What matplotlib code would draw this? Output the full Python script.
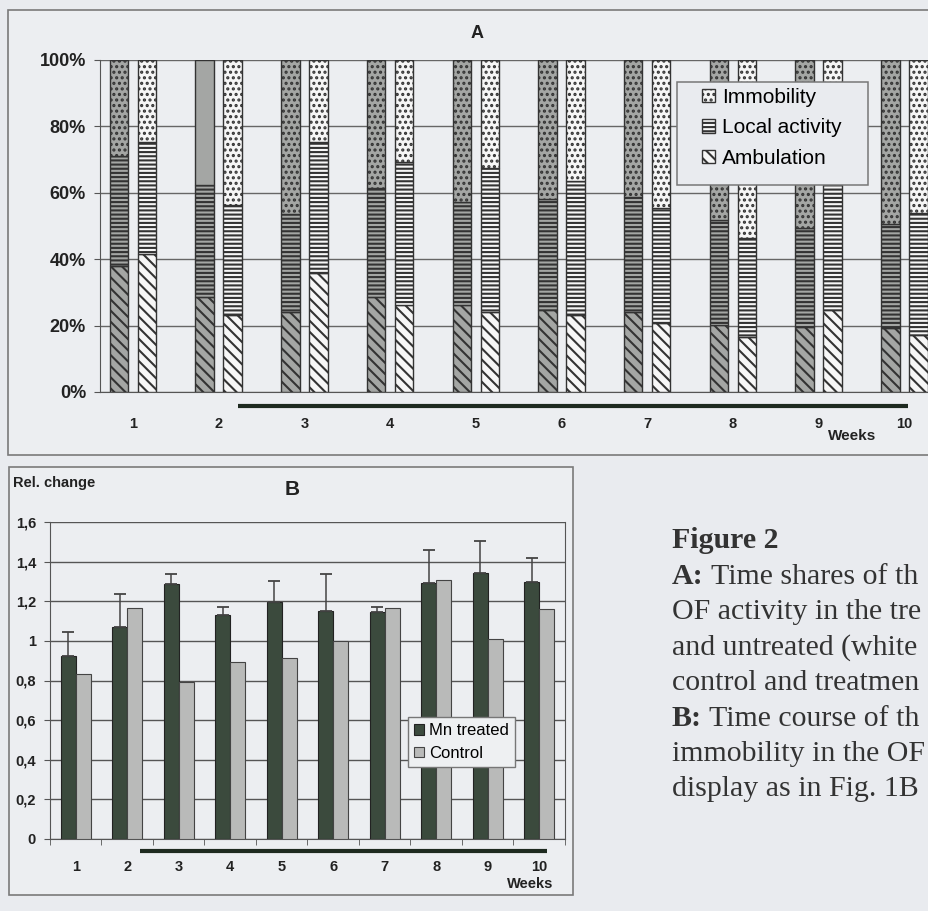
import matplotlib
matplotlib.use('Agg')
import matplotlib.pyplot as plt
import numpy as np
from matplotlib.patches import Patch, Rectangle
from matplotlib.lines import Line2D
import matplotlib.transforms as mtransforms

# panel A: time shares (%) of OF activity, treated (grey) and control (white)
weeks = [1, 2, 3, 4, 5, 6, 7, 8, 9, 10]
amb_treated = [38.0, 28.7, 24.0, 28.7, 26.2, 24.7, 24.0, 20.2, 19.7, 19.2]
local_treated = [33.1, 33.8, 29.7, 32.6, 31.1, 33.4, 34.8, 31.6, 29.8, 31.4]
immob_treated = [28.9, 37.5, 46.3, 38.7, 42.7, 41.9, 41.2, 48.2, 50.5, 49.4]
amb_control = [41.6, 23.2, 35.7, 26.1, 24.0, 23.2, 20.7, 16.7, 24.7, 17.2]
local_control = [33.6, 33.1, 39.5, 43.1, 43.6, 40.4, 34.8, 29.6, 38.3, 36.6]
immob_control = [24.8, 43.7, 24.8, 30.8, 32.4, 36.4, 44.5, 53.7, 37.0, 46.2]
pct_ticks = [0, 20, 40, 60, 80, 100]
pct_labels = ['0%', '20%', '40%', '60%', '80%', '100%']

# panel B: relative change of immobility
mn_treated = [0.925, 1.072, 1.286, 1.132, 1.195, 1.153, 1.148, 1.291, 1.341, 1.296]
mn_err = [0.12, 0.165, 0.053, 0.041, 0.107, 0.183, 0.025, 0.168, 0.163, 0.124]
control = [0.834, 1.166, 0.793, 0.892, 0.912, 1.001, 1.166, 1.309, 1.011, 1.159]
rel_ticks = [0, 0.2, 0.4, 0.6, 0.8, 1.0, 1.2, 1.4, 1.6]
rel_labels = ['0', '0,2', '0,4', '0,6', '0,8', '1', '1,2', '1,4', '1,6']

caption = ['A: Time shares of th', 'OF activity in the tre', 'and untreated (white',
           'control and treatmen', 'B: Time course of th', 'immobility in the OF',
           'display as in Fig. 1B']

W, H = 929, 911
BG = '#e9ebef'
EDGE = '#333333'
H_AMB, H_LOC, H_IMM = '\\\\\\', '----', '...'

plt.rcParams['font.family'] = ['Liberation Sans', 'DejaVu Sans']
plt.rcParams['hatch.linewidth'] = 1.5


def fig_box(x0, y0, x1, y1):
    # pixel box (top-left origin) -> figure fraction rect
    return [x0 / W, 1 - y1 / H, (x1 - x0) / W, (y1 - y0) / H]


def panel_a(fig):
    ax = fig.add_axes(fig_box(100, 60, 960, 392))
    ax.set_facecolor('none')
    x = np.array(weeks, dtype=float)
    w = 0.216
    off = 0.163
    for xs, amb, loc, imm, face in [(x - off, amb_treated, local_treated, immob_treated, '#a4a6a4'),
                                    (x + off, amb_control, local_control, immob_control, '#f6f6f6')]:
        amb = np.array(amb)
        loc = np.array(loc)
        ax.bar(xs, amb, w, color=face, edgecolor=EDGE, hatch=H_AMB, lw=1, zorder=3)
        ax.bar(xs, loc, w, bottom=amb, color=face, edgecolor=EDGE, hatch=H_LOC, lw=1, zorder=3)
        bars = ax.bar(xs, imm, w, bottom=amb + loc, color=face, edgecolor=EDGE, hatch=H_IMM, lw=1, zorder=3)
        if face == '#a4a6a4':
            bars[1].set_hatch('')  # week 2 immobility shows no dots in the scan

    ax.set_xlim(0.615, 10.65)
    ax.set_ylim(0, 100)
    ax.set_yticks(pct_ticks)
    ax.set_yticklabels(pct_labels, fontsize=13, fontweight='bold', color='#222222')
    ax.set_xticks(weeks)
    ax.set_xticklabels([str(k) for k in weeks], fontsize=10.5, fontweight='bold', color='#222222')
    ax.tick_params(axis='x', length=0, pad=18)
    ax.tick_params(axis='y', length=4, color='#555555', pad=6)
    ax.grid(axis='y', color='#666666', lw=1, zorder=0)
    for s in ['top', 'right']:
        ax.spines[s].set_visible(False)
    for s in ['left', 'bottom']:
        ax.spines[s].set_color('#555555')

    trans = mtransforms.blended_transform_factory(ax.transData, ax.transAxes)
    ax.add_line(Line2D([2.225, 10.04], [-0.042, -0.042], transform=trans, color='#1e2a20',
                       lw=3, clip_on=False, solid_capstyle='butt'))

    # legend frame drawn separately so its padding can follow the scan
    b = fig_box(677, 82, 868, 185)
    ax.add_patch(Rectangle((b[0], b[1]), b[2], b[3], transform=fig.transFigure, clip_on=False,
                           facecolor=BG, edgecolor='#777777', lw=1.1, zorder=4.5))
    handles = [Patch(facecolor='#f6f6f6', edgecolor=EDGE, hatch=H_IMM, label='Immobility'),
               Patch(facecolor='#f6f6f6', edgecolor=EDGE, hatch=H_LOC, label='Local activity'),
               Patch(facecolor='#f6f6f6', edgecolor=EDGE, hatch=H_AMB, label='Ambulation')]
    leg = ax.legend(handles=handles, loc='upper left', bbox_to_anchor=(702 / W, 1 - 88 / H),
                    bbox_transform=fig.transFigure, fontsize=15, frameon=False,
                    handlelength=0.62, handleheight=0.62, handletextpad=0.34, labelspacing=0.55,
                    borderpad=0, borderaxespad=0)
    leg.set_zorder(5)

    fig.text(477 / W, 1 - 33 / H, 'A', fontsize=13, fontweight='bold', ha='center', va='center', color='#222222')
    fig.text(828 / W, 1 - 436 / H, 'Weeks', fontsize=11, fontweight='bold', ha='left', va='center', color='#222222')


def panel_b(fig):
    ax = fig.add_axes(fig_box(50, 522, 565, 839))
    ax.set_facecolor('none')
    x = np.array(weeks, dtype=float)
    w = 0.29
    ax.bar(x - 0.145, mn_treated, w, color='#3b4a3d', edgecolor='#222222', lw=0.8, zorder=3,
           label='Mn treated')
    ax.bar(x + 0.145, control, w, color='#b9bab9', edgecolor='#444444', lw=0.8, zorder=3,
           label='Control')
    ax.errorbar(x - 0.145, mn_treated, yerr=[np.zeros(len(mn_err)), mn_err], fmt='none',
                ecolor='#444444', elinewidth=1.1, capsize=4, capthick=1.3, zorder=4)

    ax.set_xlim(0.5, 10.5)
    ax.set_ylim(0, 1.6)
    ax.set_yticks(rel_ticks)
    ax.set_yticklabels(rel_labels, fontsize=10.5, fontweight='bold', color='#222222')
    ax.set_xticks(weeks)
    ax.set_xticklabels([str(k) for k in weeks], fontsize=10.5, fontweight='bold', color='#222222')
    ax.set_xticks(np.arange(0.5, 11, 1.0), minor=True)
    ax.tick_params(axis='x', which='major', length=0, pad=15)
    ax.tick_params(axis='x', which='minor', length=4, color='#555555')
    ax.tick_params(axis='y', length=4, color='#555555', pad=6)
    ax.grid(axis='y', color='#555555', lw=1, zorder=0)
    ax.spines['top'].set_visible(False)
    for s in ['left', 'bottom', 'right']:
        ax.spines[s].set_color('#555555')

    trans = mtransforms.blended_transform_factory(ax.transData, ax.transAxes)
    ax.add_line(Line2D([2.247, 10.15], [-0.038, -0.038], transform=trans, color='#1e2a20',
                       lw=3, clip_on=False, solid_capstyle='butt'))

    leg = ax.legend(loc='upper left', bbox_to_anchor=(0.695, 0.385), fontsize=12,
                    fancybox=False, framealpha=1, facecolor='#eef0f2', edgecolor='#777777',
                    handlelength=0.6, handleheight=0.6, handletextpad=0.3, labelspacing=0.45,
                    borderpad=0.38, borderaxespad=0)
    leg.set_zorder(5)

    fig.text(13 / W, 1 - 483 / H, 'Rel. change', fontsize=10.5, fontweight='bold', ha='left', va='center', color='#222222')
    fig.text(292 / W, 1 - 489 / H, 'B', fontsize=15, fontweight='bold', ha='center', va='center', color='#222222')
    fig.text(553 / W, 1 - 884 / H, 'Weeks', fontsize=10.5, fontweight='bold', ha='right', va='center', color='#222222')


def frames(fig):
    for x0, y0, x1, y1 in [(8, 10, 945, 455), (9, 467, 573, 895)]:
        b = fig_box(x0, y0, x1, y1)
        fig.patches.append(Rectangle((b[0], b[1]), b[2], b[3], transform=fig.transFigure,
                                     facecolor='#eceef1', edgecolor='#7a7a7a', lw=1.2, zorder=-1))


def caption_text(fig):
    x0 = 672 / W
    fs = 21.5
    top = 548
    step = 35.5
    fig.text(x0, 1 - top / H, 'Figure 2', fontsize=fs, fontweight='bold', family='Liberation Serif',
             ha='left', va='baseline', color='#333333')
    for i, line in enumerate(caption):
        y = top + (i + 1) * step
        head, rest = (line[:2], line[2:]) if line[1] == ':' else ('', line)
        dx = 0
        if head:
            t = fig.text(x0, 1 - y / H, head, fontsize=fs, fontweight='bold', family='Liberation Serif',
                         ha='left', va='baseline', color='#333333')
            # the rest of the line follows the bold "A:" / "B:" label
            fig.canvas.draw()
            dx = t.get_window_extent().width / W
        fig.text(x0 + dx, 1 - y / H, rest, fontsize=fs, family='Liberation Serif',
                 ha='left', va='baseline', color='#333333')


def main():
    fig = plt.figure(figsize=(W / 100, H / 100), dpi=100, facecolor=BG)
    frames(fig)
    panel_a(fig)
    panel_b(fig)
    caption_text(fig)
    fig.savefig('out.png', dpi=100, facecolor=BG)


if __name__ == '__main__':
    main()
